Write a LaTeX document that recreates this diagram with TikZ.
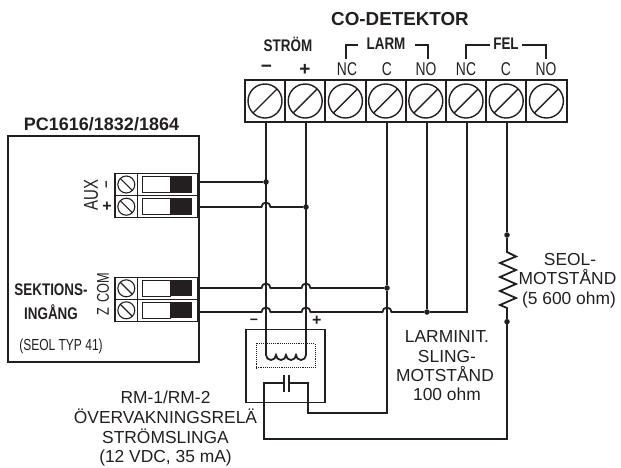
\documentclass[tikz,border=0pt]{standalone}
\usepackage{fontspec}
\setmainfont{Liberation Sans}
\newfontfamily\narrowf[FakeStretch=0.75]{Liberation Sans}
\newfontfamily\bnarrowf[FakeStretch=0.8]{Liberation Sans Bold}
\definecolor{ink}{HTML}{231F20}
\tikzset{
  x=1pt,y=-1pt,
  wire/.style={draw=ink,line width=1.8pt,line join=miter},
  boxline/.style={draw=ink,line width=1.8pt},
  thin box/.style={draw=ink,line width=1.2pt},
  cell/.style={draw=ink,line width=2pt,minimum width=40.2pt,minimum height=42pt,inner sep=0pt,outer sep=0pt},
  bigscrew/.style={draw=ink,line width=1.4pt,circle,minimum size=34pt,inner sep=0pt,outer sep=0pt},
  smallscrew/.style={draw=ink,line width=1.1pt,circle,minimum size=17pt,inner sep=0pt,outer sep=0pt},
  lab/.style={text=ink,font=\fontsize{17.4}{17.4}\selectfont,inner sep=0pt,align=center},
  narrow/.style={text=ink,font=\narrowf\fontsize{18.5}{18.5}\selectfont,inner sep=0pt},
  bnarrow/.style={text=ink,font=\bnarrowf\fontsize{16.8}{16.8}\selectfont,inner sep=0pt},
  blab/.style={text=ink,font=\bfseries\fontsize{18}{18}\selectfont,inner sep=0pt},
  dot/.style={circle,fill=ink,minimum size=5.5pt,inner sep=0pt,outer sep=0pt},
  sign/.style={text=ink,font=\bfseries\fontsize{19}{19}\selectfont,inner sep=0pt},
}
\newcommand{\hop}[2]{-- (#1-4.5,#2) arc[start angle=180,end angle=0,radius=4.5pt]}
\begin{document}
\begin{tikzpicture}
\useasboundingbox (0,0) rectangle (621,467);
% detector terminal strip
\foreach \i/\cx in {1/265,2/305.2,3/345.4,4/385.6,5/425.8,6/466,7/506.2,8/546.4}{
  \node[cell] (d\i) at (\cx,101) {};
  \node[bigscrew] (ds\i) at (\cx,101) {};
  \draw[ink,line width=1.4pt] (ds\i.225) -- (ds\i.45);
}
% panel
\node[boxline,minimum width=191pt,minimum height=226pt,inner sep=0pt,outer sep=0pt] (panel) at (103.5,249) {};
\foreach \n/\cy in {a/184.5,b/206.7,c/288.3,d/310.3}{
  \node[thin box,minimum width=83pt,minimum height=22pt,inner sep=0pt,outer sep=0pt] (\n) at (156.5,\cy) {};
  \draw[ink,line width=1.2pt] (137.7,\cy-11) -- (137.7,\cy+11);
  \node[smallscrew] (\n s) at (126.3,\cy) {};
  \draw[ink,line width=1.1pt] (\n s.135) -- (\n s.-45);
  \draw[ink,line width=0.6pt,fill=white] (142,\cy-8.5) rectangle (170,\cy+8);
  \fill[ink] (170,\cy-8.5) rectangle (192.3,\cy+8);
}
% relay
\node[draw=ink,line width=1.2pt,minimum width=79pt,minimum height=73pt,inner sep=0pt,outer sep=0pt] (relay) at (285.5,365.7) {};
\node[draw=ink,line width=1.1pt,densely dotted,minimum width=59pt,minimum height=24pt,inner sep=0pt,outer sep=0pt] (inner) at (285.7,355.7) {};
% junctions
\coordinate (pa) at (199,182);
\coordinate (pb) at (199,207);
\coordinate (pc) at (199,288);
\coordinate (pd) at (199,312);
\node[dot] (j1) at (266,182) {};
\node[dot] (j2) at (306,207) {};
\node[dot] (j3) at (387,288) {};
\node[dot] (j4) at (427,312) {};
\node[dot] (j5) at (507,235) {};
\node[dot] (j6) at (507,321.7) {};
% vertical wires from the strip
\coordinate (c1) at (266,355);
\coordinate (c2) at (306,355);
\draw[wire] (266,122) -- (c1);
\draw[wire] (306,122) -- (c2);
\draw[wire] (c1) arc[start angle=180,end angle=360,radius=5pt]
  arc[start angle=180,end angle=360,radius=5pt]
  arc[start angle=180,end angle=360,radius=5pt]
  arc[start angle=180,end angle=360,radius=5pt];
\draw[wire] (387,122) -- (j3);
\draw[wire] (427,122) -- (j4);
\draw[wire] (467,122) -- (467,312) -- (j4);
\draw[wire] (507,122) -- (j5);
% panel wires
\draw[wire] (pa) -- (j1);
\draw[wire] (pb) \hop{266}{207} -- (j2);
\draw[wire] (pc) \hop{266}{288} \hop{306}{288} -- (j3);
\draw[wire] (pd) \hop{266}{312} \hop{306}{312} \hop{387}{312} -- (j4);
% resistor
\draw[wire,line join=miter] (j5) -- (507,252) -- (516,256.5) -- (500,263) -- (516,270) -- (500,277) -- (516,284) -- (500,291) -- (516,298) -- (500,305) -- (507,308) -- (j6);
% capacitor loops
\coordinate (p1) at (284,383);
\coordinate (p2) at (289,383);
\draw[wire] (p1) -- (264,383) -- (264,439) -- (507,439) -- (j6);
\draw[wire] (p2) -- (308,383) -- (308,413) -- (387,413) -- (j3);
\draw[ink,line width=1.8pt] (284,375) -- (284,391.5);
\draw[ink,line width=1.8pt] (289,375) -- (289,391.5);
% detector labels
\node[blab,font=\bfseries\fontsize{18.8}{18.8}\selectfont] (title) at (400,19) {CO-DETEKTOR};
\node[bnarrow] (strom) at (288,44) {STRÖM};
\node[bnarrow] (larm) at (386,44) {LARM};
\node[bnarrow] (fel) at (506,44) {FEL};
\draw[wire] (346,59) -- (346,45) -- (358,45);
\draw[wire] (415,45) -- (428,45) -- (428,59);
\draw[wire] (490,45) -- (466,45) -- (466,59);
\draw[wire] (522,45) -- (546,45) -- (546,59);
\node[sign] (m1) at (266.5,69) {−};
\node[sign] (p3) at (305,70) {+};
\foreach \t/\cx/\nm in {NC/347/t3,C/387/t4,NO/426/t5,NC/466/t6,C/506/t7,NO/546/t8}{
  \node[narrow] (\nm) at (\cx,69) {\t};
}
% panel labels
\node[blab] (ptitle) at (101.5,124) {PC1616/1832/1864};
\node[narrow,rotate=90,font=\narrowf\fontsize{20}{20}\selectfont] (aux) at (91,195) {AUX};
\node[sign,rotate=90,font=\bfseries\fontsize{13}{13}\selectfont] (am) at (108,185) {−};
\node[sign,font=\bfseries\fontsize{16}{16}\selectfont] (ap) at (107,206.5) {+};
\node[narrow,rotate=90,font=\narrowf\fontsize{17}{17}\selectfont] (com) at (103,287.5) {COM};
\node[narrow,rotate=90,font=\narrowf\fontsize{17}{17}\selectfont] (z) at (103,312) {Z};
\node[bnarrow] (sek) at (51,290) {SEKTIONS-};
\node[bnarrow] (ing) at (51,312) {INGÅNG};
\node[narrow,font=\narrowf\fontsize{16}{16}\selectfont] (seol) at (61,346) {(SEOL TYP 41)};
% relay labels
\node[sign,font=\bfseries\fontsize{14}{14}\selectfont] (rm) at (254,321.5) {−};
\node[sign,font=\bfseries\fontsize{16}{16}\selectfont] (rp) at (316.7,321) {+};
\node[lab,anchor=base] (r1) at (165.5,403) {RM-1/RM-2};
\node[lab,anchor=base] (r2) at (165.5,423) {ÖVERVAKNINGSRELÄ};
\node[lab,anchor=base] (r3) at (165.5,443) {STRÖMSLINGA};
\node[lab,anchor=base] (r4) at (165.5,462) {(12 VDC, 35 mA)};
\node[lab,anchor=base] (l1) at (447,342) {LARMINIT.};
\node[lab,anchor=base] (l2) at (447,362) {SLING-};
\node[lab,anchor=base] (l3) at (445,381.5) {MOTSTÅND};
\node[lab,anchor=base] (l4) at (447,400.5) {100 ohm};
\node[lab,anchor=base] (s1) at (570,265.5) {SEOL-};
\node[lab,anchor=base] (s2) at (567.5,284.5) {MOTSTÅND};
\node[lab,anchor=base] (s3) at (569,304.5) {(5 600 ohm)};
\end{tikzpicture}
\end{document}
